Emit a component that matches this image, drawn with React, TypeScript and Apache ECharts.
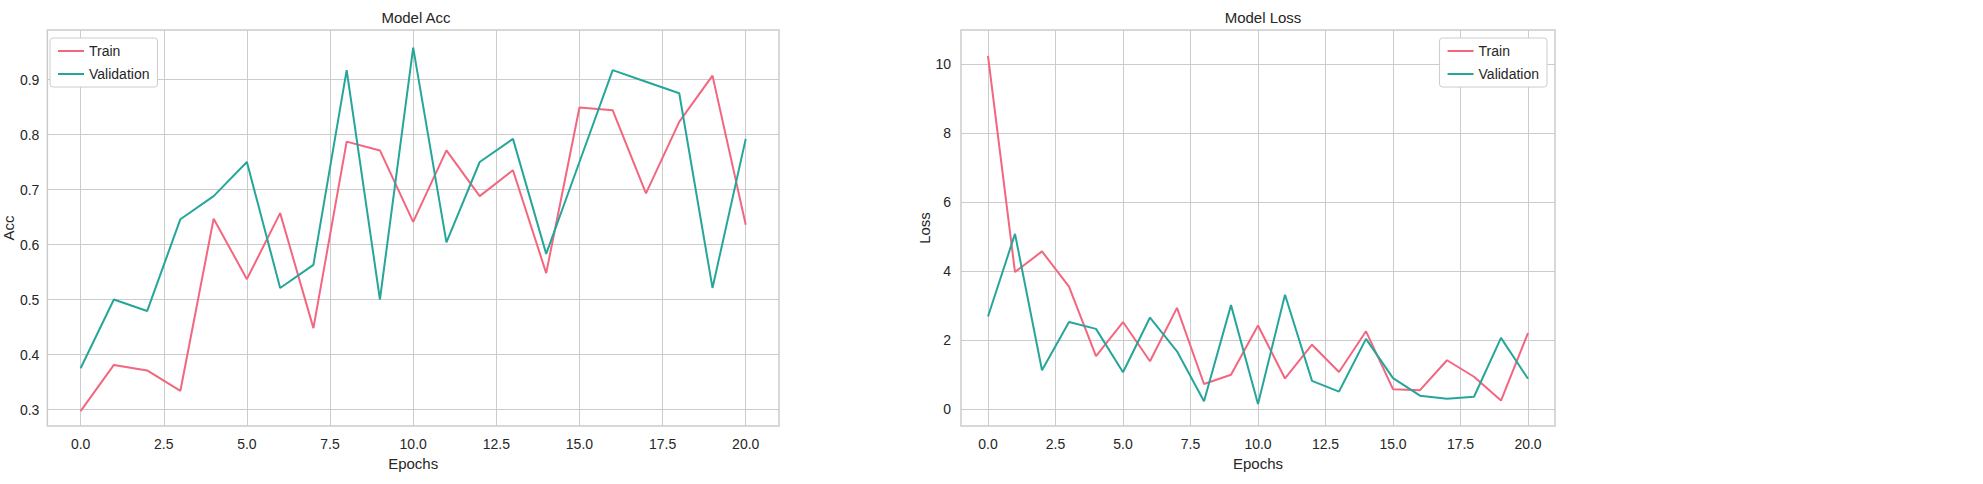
import { useEffect, useRef } from "react";
import * as echarts from "echarts";

const epochs = Array.from({ length: 21 }, (_, i) => i);
const accTrain = [0.297, 0.381, 0.371, 0.334, 0.647, 0.537, 0.657, 0.448, 0.787, 0.771, 0.641, 0.771, 0.688, 0.735, 0.548, 0.849, 0.844, 0.693, 0.823, 0.907, 0.636];
const accVal = [0.375, 0.5, 0.479, 0.646, 0.688, 0.75, 0.521, 0.563, 0.917, 0.5, 0.958, 0.604, 0.75, 0.792, 0.583, 0.75, 0.917, 0.896, 0.875, 0.521, 0.792];
const lossTrain = [10.25, 3.97, 4.57, 3.55, 1.53, 2.52, 1.38, 2.93, 0.72, 0.99, 2.42, 0.88, 1.86, 1.07, 2.25, 0.57, 0.54, 1.41, 0.93, 0.24, 2.2];
const lossVal = [2.68, 5.08, 1.12, 2.52, 2.32, 1.06, 2.65, 1.67, 0.22, 3.01, 0.14, 3.31, 0.81, 0.5, 2.03, 0.89, 0.38, 0.29, 0.35, 2.06, 0.87];

const TRAIN = "#f3667f";
const VAL = "#26a69a";
const GRID = "#cccccc";
const TEXT = "#262626";
const FONT = "Liberation Sans, Arial, sans-serif";

// repeating colour list so only every n-th fine tick gets a grid line
const cycle = (n: number, at: number) => Array.from({ length: n }, (_, i) => (i === at ? GRID : "rgba(0,0,0,0)"));
const near = (v: number, step: number) => Math.abs(v / step - Math.round(v / step)) < 1e-6;

function xAxis(gridIndex: number) {
  return {
    type: "value", gridIndex, min: -1, max: 21, interval: 0.5,
    name: "Epochs", nameLocation: "middle", nameGap: 30,
    nameTextStyle: { color: TEXT, fontSize: 15, fontFamily: FONT },
    axisLine: { show: false }, axisTick: { show: false },
    axisLabel: { color: TEXT, fontSize: 14, fontFamily: FONT, margin: 11, showMinLabel: false, showMaxLabel: false,
      formatter: (v: number) => (near(v, 2.5) ? v.toFixed(1) : "") },
    splitLine: { show: true, lineStyle: { color: cycle(5, 2), width: 1 } },
  };
}

export default function App() {
  const ref = useRef<HTMLDivElement>(null);

  useEffect(() => {
    document.body.style.margin = "0";
    if (!ref.current) return;
    const chart = echarts.init(ref.current, null, { renderer: "svg" });
    const line = (name: string, data: number[], color: string, i: number) => ({
      name, type: "line", xAxisIndex: i, yAxisIndex: i, showSymbol: false,
      data: epochs.map((e, k) => [e, data[k]]),
      lineStyle: { color, width: 2 }, itemStyle: { color },
    });
    const legend = (left: number | string, right?: number) => ({
      data: ["Train", "Validation"], orient: "vertical", top: 38, left, right,
      itemWidth: 26, itemHeight: 2, itemGap: 9, padding: [6, 8, 6, 8],
      icon: "rect", borderColor: GRID, borderWidth: 1, borderRadius: 3, backgroundColor: "#fff",
      textStyle: { color: TEXT, fontSize: 14, fontFamily: FONT },
    });
    chart.setOption({
      animation: false,
      backgroundColor: "#fff",
      title: [
        { text: "Model Acc", left: 411, top: 5, textAlign: "center", textStyle: { color: TEXT, fontSize: 15, fontWeight: "normal", fontFamily: FONT } },
        { text: "Model Loss", left: 1258, top: 5, textAlign: "center", textStyle: { color: TEXT, fontSize: 15, fontWeight: "normal", fontFamily: FONT } },
      ],
      legend: [
        { ...legend(50) },
        { ...legend("auto", 436) },
      ],
      grid: [
        { left: 43, right: 1204, top: 30, bottom: 58, show: true, borderColor: GRID, borderWidth: 1.5 },
        { left: 961, right: 428, top: 30, bottom: 58, show: true, borderColor: GRID, borderWidth: 1.5 },
      ],
      xAxis: [xAxis(0), xAxis(1)],
      yAxis: [
        {
          type: "value", gridIndex: 0, min: 0.27, max: 0.99, interval: 0.01,
          name: "Acc", nameLocation: "middle", nameGap: 29,
          nameTextStyle: { color: TEXT, fontSize: 15, fontFamily: FONT },
          axisLine: { show: false }, axisTick: { show: false },
          axisLabel: { color: TEXT, fontSize: 14, fontFamily: FONT, margin: 8, showMinLabel: false, showMaxLabel: false,
            formatter: (v: number) => (near(v, 0.1) ? v.toFixed(1) : "") },
          splitLine: { show: true, lineStyle: { color: cycle(10, 3), width: 1 } },
        },
        {
          type: "value", gridIndex: 1, min: -0.5, max: 11, interval: 0.5,
          name: "Loss", nameLocation: "middle", nameGap: 29,
          nameTextStyle: { color: TEXT, fontSize: 15, fontFamily: FONT },
          axisLine: { show: false }, axisTick: { show: false },
          axisLabel: { color: TEXT, fontSize: 14, fontFamily: FONT, margin: 10, showMinLabel: false, showMaxLabel: false,
            formatter: (v: number) => (near(v, 2) ? String(Math.round(v)) : "") },
          splitLine: { show: true, lineStyle: { color: cycle(4, 1), width: 1 } },
        },
      ],
      series: [
        line("Train", accTrain, TRAIN, 0),
        line("Validation", accVal, VAL, 0),
        line("Train", lossTrain, TRAIN, 1),
        line("Validation", lossVal, VAL, 1),
      ],
    });
    return () => chart.dispose();
  }, []);

  return <div ref={ref} style={{ width: 1983, height: 484 }} />;
}
